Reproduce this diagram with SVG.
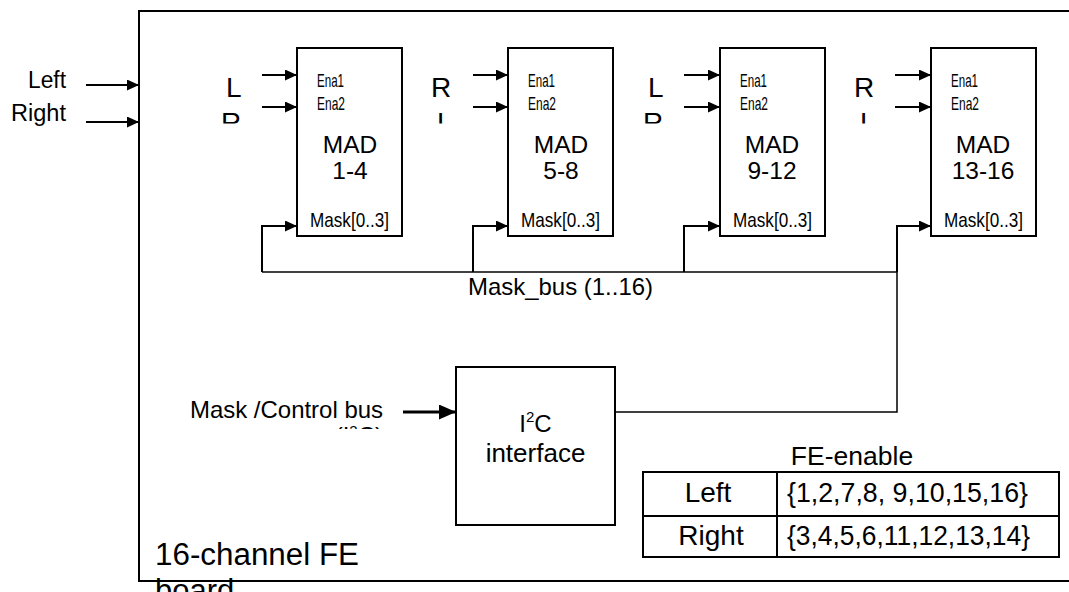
<svg xmlns="http://www.w3.org/2000/svg" width="1069" height="592" viewBox="0 0 1069 592">
<style>
.t{font-family:"Liberation Sans",Arial,sans-serif;fill:#000}
.n{font-family:"Liberation Sans Narrow","Liberation Sans",Arial,sans-serif;fill:#000}
.e{font-size:18.5px}
.box{fill:#fff;stroke:#000;stroke-width:2}
.ln{fill:none;stroke:#000;stroke-width:1.5}
.ar{fill:none;stroke:#000;stroke-width:2;marker-end:url(#ah)}
.big{font-size:28px}
.mad{font-size:24.5px;text-anchor:middle}
</style>
<defs>
<marker id="ah" markerUnits="userSpaceOnUse" markerWidth="12" markerHeight="11" refX="12" refY="5.5" orient="auto"><path d="M0,0 L12,5.5 L0,11 z" fill="#000"/></marker>
<marker id="ahb" markerUnits="userSpaceOnUse" markerWidth="17" markerHeight="15" refX="17" refY="7.5" orient="auto"><path d="M0,0 L17,7.5 L0,15 z" fill="#000"/></marker>
<clipPath id="c1"><rect x="200" y="60" width="60" height="63.5"/></clipPath>
<clipPath id="c2"><rect x="410" y="60" width="60" height="63.5"/></clipPath>
<clipPath id="c3"><rect x="620" y="60" width="60" height="63.5"/></clipPath>
<clipPath id="c4"><rect x="830" y="60" width="60" height="63.5"/></clipPath>
<clipPath id="c5"><rect x="180" y="390" width="220" height="39"/></clipPath>
</defs>
<rect width="1069" height="592" fill="#fff"/>

<g id="board">
<rect x="139" y="11" width="1000" height="570" fill="none" stroke="#000" stroke-width="2"/>
<text class="t" x="155" y="565" font-size="31" textLength="204" lengthAdjust="spacingAndGlyphs">16-channel FE</text>
<text class="t" x="155" y="601" font-size="31">board</text>
</g>

<g id="inputs">
<text class="t" x="28" y="88" font-size="23.5" textLength="38" lengthAdjust="spacingAndGlyphs">Left</text>
<text class="t" x="11" y="121" font-size="23.5" textLength="55" lengthAdjust="spacingAndGlyphs">Right</text>
</g>

<g id="mad1">
<rect class="box" x="297" y="48" width="105" height="188"/>
<text class="n e" x="317" y="87" textLength="27" lengthAdjust="spacingAndGlyphs">Ena1</text>
<text class="n e" x="317" y="110" textLength="28" lengthAdjust="spacingAndGlyphs">Ena2</text>
<text class="t mad" x="350" y="153">MAD</text>
<text class="t mad" x="350" y="179">1-4</text>
<text class="n" x="310" y="227" font-size="21" textLength="79" lengthAdjust="spacingAndGlyphs">Mask[0..3]</text>
<g clip-path="url(#c1)"><text class="t big" x="226" y="97">L</text><text class="t big" x="221" y="132">R</text></g>
</g>

<g id="mad2">
<rect class="box" x="508" y="48" width="105" height="188"/>
<text class="n e" x="528" y="87" textLength="27" lengthAdjust="spacingAndGlyphs">Ena1</text>
<text class="n e" x="528" y="110" textLength="28" lengthAdjust="spacingAndGlyphs">Ena2</text>
<text class="t mad" x="561" y="153">MAD</text>
<text class="t mad" x="561" y="179">5-8</text>
<text class="n" x="521" y="227" font-size="21" textLength="79" lengthAdjust="spacingAndGlyphs">Mask[0..3]</text>
<g clip-path="url(#c2)"><text class="t big" x="431" y="97">R</text><text class="t big" x="437" y="132">L</text></g>
</g>

<g id="mad3">
<rect class="box" x="720" y="48" width="105" height="188"/>
<text class="n e" x="740" y="87" textLength="27" lengthAdjust="spacingAndGlyphs">Ena1</text>
<text class="n e" x="740" y="110" textLength="28" lengthAdjust="spacingAndGlyphs">Ena2</text>
<text class="t mad" x="772" y="153">MAD</text>
<text class="t mad" x="772" y="179">9-12</text>
<text class="n" x="733" y="227" font-size="21" textLength="79" lengthAdjust="spacingAndGlyphs">Mask[0..3]</text>
<g clip-path="url(#c3)"><text class="t big" x="648" y="97">L</text><text class="t big" x="643" y="132">R</text></g>
</g>

<g id="mad4">
<rect class="box" x="931" y="48" width="105" height="188"/>
<text class="n e" x="951" y="87" textLength="27" lengthAdjust="spacingAndGlyphs">Ena1</text>
<text class="n e" x="951" y="110" textLength="28" lengthAdjust="spacingAndGlyphs">Ena2</text>
<text class="t mad" x="983" y="153">MAD</text>
<text class="t mad" x="983" y="179">13-16</text>
<text class="n" x="944" y="227" font-size="21" textLength="79" lengthAdjust="spacingAndGlyphs">Mask[0..3]</text>
<g clip-path="url(#c4)"><text class="t big" x="854" y="97">R</text><text class="t big" x="860" y="132">L</text></g>
</g>

<g id="i2c">
<rect class="box" x="456" y="367" width="159" height="158"/>
<text class="t" x="535.5" y="432" font-size="24" text-anchor="middle">I<tspan font-size="15" dy="-10">2</tspan><tspan dy="10">C</tspan></text>
<text class="t" x="535.5" y="462" font-size="26" text-anchor="middle">interface</text>
</g>

<g id="control-label">
<text class="t" x="190" y="418" font-size="24" textLength="193" lengthAdjust="spacingAndGlyphs">Mask /Control bus</text>
<g clip-path="url(#c5)"><text class="t" x="383" y="444" font-size="24" text-anchor="end">(I<tspan font-size="15" dy="-8">2</tspan><tspan dy="8">C)</tspan></text></g>
</g>

<g id="fe-enable">
<text class="t" x="852" y="465" font-size="26.5" text-anchor="middle">FE-enable</text>
<rect x="643" y="472" width="416" height="85" fill="none" stroke="#000" stroke-width="2"/>
<line x1="777" y1="472" x2="777" y2="557" stroke="#000" stroke-width="2"/>
<line x1="643" y1="516" x2="1059" y2="516" stroke="#000" stroke-width="2"/>
<text class="t" x="708" y="502" font-size="28" text-anchor="middle">Left</text>
<text class="t" x="711" y="545" font-size="28" text-anchor="middle">Right</text>
<text class="t" x="787" y="502" font-size="27" textLength="241" lengthAdjust="spacingAndGlyphs">{1,2,7,8, 9,10,15,16}</text>
<text class="t" x="787" y="545" font-size="27" textLength="243" lengthAdjust="spacingAndGlyphs">{3,4,5,6,11,12,13,14}</text>
</g>

<g id="connectors">
<line class="ar" x1="86" y1="85" x2="139" y2="85"/>
<line class="ar" x1="86" y1="122" x2="139" y2="122"/>
<line class="ar" x1="262" y1="75" x2="297" y2="75"/>
<line class="ar" x1="262" y1="107" x2="297" y2="107"/>
<line class="ar" x1="473" y1="75" x2="508" y2="75"/>
<line class="ar" x1="473" y1="107" x2="508" y2="107"/>
<line class="ar" x1="684" y1="75" x2="720" y2="75"/>
<line class="ar" x1="684" y1="107" x2="720" y2="107"/>
<line class="ar" x1="895" y1="75" x2="931" y2="75"/>
<line class="ar" x1="895" y1="107" x2="931" y2="107"/>
<polyline class="ar" points="262,272 262,226 297,226"/>
<polyline class="ar" points="473,272 473,226 508,226"/>
<polyline class="ar" points="684,272 684,226 720,226"/>
<polyline class="ar" points="897,272 897,226 931,226"/>
<line class="ln" x1="262" y1="272" x2="897" y2="272"/>
<polyline class="ln" points="615,412 897,412 897,272"/>
<line x1="403" y1="412" x2="456" y2="412" stroke="#000" stroke-width="3" marker-end="url(#ahb)"/>
<text class="t" x="468" y="295" font-size="24" textLength="185" lengthAdjust="spacingAndGlyphs">Mask_bus (1..16)</text>
</g>
</svg>
